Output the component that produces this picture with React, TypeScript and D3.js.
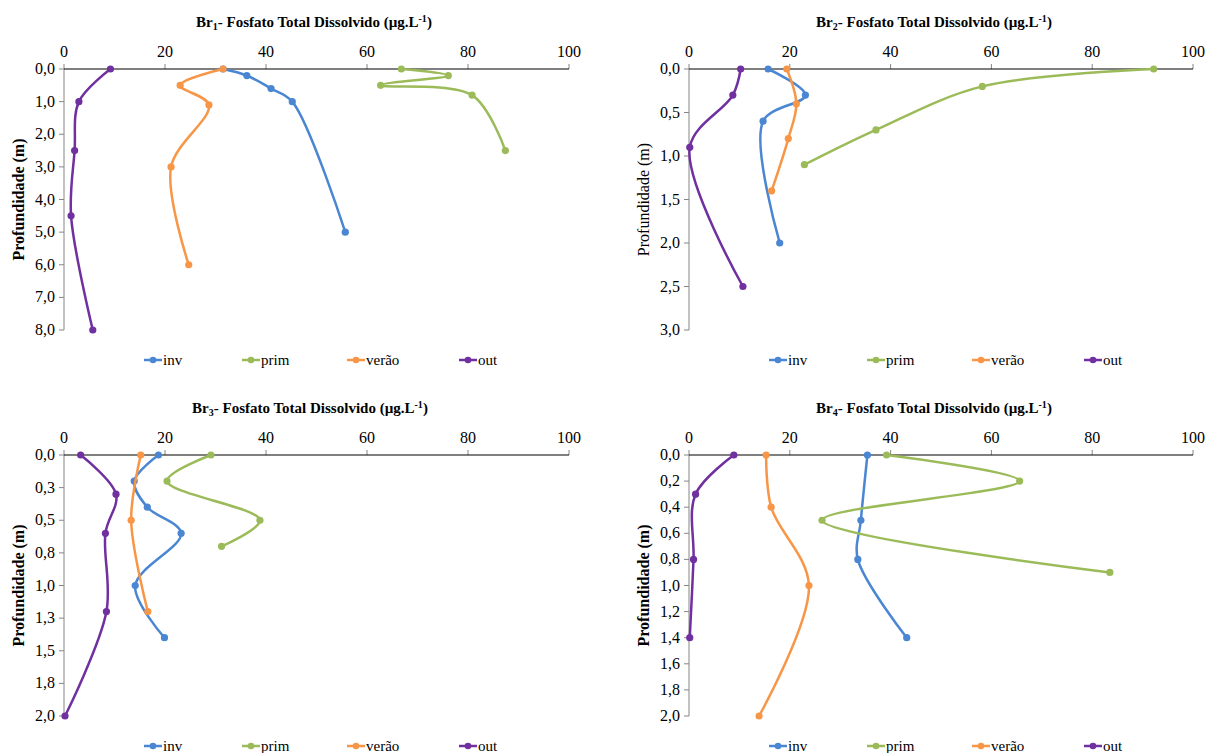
import React from "react";
import * as d3 from "d3";

// ---------- DATA ----------
const seriesNames = ["inv", "prim", "verão", "out"];
const seriesColors = ["#4a86d2", "#9bbb59", "#f79646", "#7030a0"];
const xTicks = [0, 20, 40, 60, 80, 100];

// Br1
const br1InvValue = [31.5, 36.2, 41.0, 45.2, 55.7];
const br1InvDepth = [0, 0.2, 0.6, 1.0, 5.0];
const br1PrimValue = [66.8, 76.1, 62.7, 80.8, 87.4];
const br1PrimDepth = [0, 0.2, 0.5, 0.8, 2.5];
const br1VeraoValue = [31.5, 23.0, 28.7, 21.2, 24.7];
const br1VeraoDepth = [0, 0.5, 1.1, 3.0, 6.0];
const br1OutValue = [9.2, 2.95, 2.1, 1.4, 5.7];
const br1OutDepth = [0, 1.0, 2.5, 4.5, 8.0];
const br1Ticks = [0, 1, 2, 3, 4, 5, 6, 7, 8];
const br1TickLabels = ["0,0", "1,0", "2,0", "3,0", "4,0", "5,0", "6,0", "7,0", "8,0"];

// Br2
const br2InvValue = [15.7, 23.1, 14.7, 18.0];
const br2InvDepth = [0, 0.3, 0.6, 2.0];
const br2PrimValue = [92.2, 58.2, 37.1, 22.9];
const br2PrimDepth = [0, 0.2, 0.7, 1.1];
const br2VeraoValue = [19.4, 21.3, 19.7, 16.4];
const br2VeraoDepth = [0, 0.4, 0.8, 1.4];
const br2OutValue = [10.25, 8.7, 0.15, 10.7];
const br2OutDepth = [0, 0.3, 0.9, 2.5];
const br2Ticks = [0, 0.5, 1, 1.5, 2, 2.5, 3];
const br2TickLabels = ["0,0", "0,5", "1,0", "1,5", "2,0", "2,5", "3,0"];

// Br3
const br3InvValue = [18.7, 13.9, 16.5, 23.2, 14.1, 19.9];
const br3InvDepth = [0, 0.2, 0.4, 0.6, 1.0, 1.4];
const br3PrimValue = [29.1, 20.4, 38.8, 31.2];
const br3PrimDepth = [0, 0.2, 0.5, 0.7];
const br3VeraoValue = [15.2, 13.3, 16.6];
const br3VeraoDepth = [0, 0.5, 1.2];
const br3OutValue = [3.3, 10.3, 8.2, 8.4, 0.2];
const br3OutDepth = [0, 0.3, 0.6, 1.2, 2.0];
const br3Ticks = [0, 0.25, 0.5, 0.75, 1, 1.25, 1.5, 1.75, 2];
const br3TickLabels = ["0,0", "0,3", "0,5", "0,8", "1,0", "1,3", "1,5", "1,8", "2,0"];

// Br4
const br4InvValue = [35.4, 34.1, 33.5, 43.2];
const br4InvDepth = [0, 0.5, 0.8, 1.4];
const br4PrimValue = [39.2, 65.6, 26.4, 83.5];
const br4PrimDepth = [0, 0.2, 0.5, 0.9];
const br4VeraoValue = [15.3, 16.3, 23.8, 13.9];
const br4VeraoDepth = [0, 0.4, 1.0, 2.0];
const br4OutValue = [8.9, 1.3, 0.9, 0.15];
const br4OutDepth = [0, 0.3, 0.8, 1.4];
const br4Ticks = [0, 0.2, 0.4, 0.6, 0.8, 1, 1.2, 1.4, 1.6, 1.8, 2];
const br4TickLabels = ["0,0", "0,2", "0,4", "0,6", "0,8", "1,0", "1,2", "1,4", "1,6", "1,8", "2,0"];

type Series = { values: number[]; depths: number[] };

const panels = [
  {
    sub: "1",
    series: [
      { values: br1InvValue, depths: br1InvDepth },
      { values: br1PrimValue, depths: br1PrimDepth },
      { values: br1VeraoValue, depths: br1VeraoDepth },
      { values: br1OutValue, depths: br1OutDepth },
    ] as Series[],
    ticks: br1Ticks, tickLabels: br1TickLabels, boldY: true,
    left: 64, top: 69, width: 505, titleX: 314,
  },
  {
    sub: "2",
    series: [
      { values: br2InvValue, depths: br2InvDepth },
      { values: br2PrimValue, depths: br2PrimDepth },
      { values: br2VeraoValue, depths: br2VeraoDepth },
      { values: br2OutValue, depths: br2OutDepth },
    ] as Series[],
    ticks: br2Ticks, tickLabels: br2TickLabels, boldY: false,
    left: 689, top: 69, width: 504, titleX: 934,
  },
  {
    sub: "3",
    series: [
      { values: br3InvValue, depths: br3InvDepth },
      { values: br3PrimValue, depths: br3PrimDepth },
      { values: br3VeraoValue, depths: br3VeraoDepth },
      { values: br3OutValue, depths: br3OutDepth },
    ] as Series[],
    ticks: br3Ticks, tickLabels: br3TickLabels, boldY: true,
    left: 64, top: 455, width: 505, titleX: 310,
  },
  {
    sub: "4",
    series: [
      { values: br4InvValue, depths: br4InvDepth },
      { values: br4PrimValue, depths: br4PrimDepth },
      { values: br4VeraoValue, depths: br4VeraoDepth },
      { values: br4OutValue, depths: br4OutDepth },
    ] as Series[],
    ticks: br4Ticks, tickLabels: br4TickLabels, boldY: true,
    left: 689, top: 455, width: 504, titleX: 934,
  },
];

const PLOT_H = 261;
const FONT = "Liberation Serif, Times New Roman, serif";
const legendOffsets = [80, 178, 283, 395];

function Panel({ p }: { p: (typeof panels)[number] }) {
  const x = d3.scaleLinear().domain([0, 100]).range([p.left, p.left + p.width]);
  const yMax = p.ticks[p.ticks.length - 1];
  const y = d3.scaleLinear().domain([0, yMax]).range([p.top, p.top + PLOT_H]);
  const line = d3
    .line<[number, number]>()
    .x((d) => x(d[0]))
    .y((d) => y(d[1]))
    .curve(d3.curveCatmullRom.alpha(0.5));
  const legendY = p.top + PLOT_H + 30;
  return (
    <g style={{ fontFamily: FONT }}>
      <text x={p.titleX} y={p.top - 42} textAnchor="middle" fontWeight="bold" fontSize={15}>
        Br<tspan fontSize={10} dy={3}>{p.sub}</tspan>
        <tspan dy={-3}>- Fosfato Total Dissolvido (µg.L</tspan>
        <tspan fontSize={10} dy={-5}>-1</tspan>
        <tspan dy={5}>)</tspan>
      </text>
      {/* y axis */}
      <line x1={p.left} x2={p.left} y1={p.top} y2={p.top + PLOT_H} stroke="#868686" strokeWidth={1} />
      {p.ticks.map((t, i) => (
        <g key={"yt" + i}>
          <line x1={p.left - 5} x2={p.left} y1={y(t)} y2={y(t)} stroke="#868686" />
          <text x={p.left - 9} y={y(t) + 5} textAnchor="end" fontSize={16}>
            {p.tickLabels[i]}
          </text>
        </g>
      ))}
      {/* x axis */}
      {xTicks.map((t) => (
        <g key={"xt" + t}>
          <line x1={x(t)} x2={x(t)} y1={p.top - 5} y2={p.top} stroke="#868686" />
          <text x={x(t)} y={p.top - 12} textAnchor="middle" fontSize={16}>
            {t}
          </text>
        </g>
      ))}
      <line x1={p.left} x2={p.left + p.width} y1={p.top} y2={p.top} stroke="#000" strokeWidth={1.2} />
      <text
        transform={`translate(${p.left - 45},${p.top + PLOT_H / 2}) rotate(-90)`}
        textAnchor="middle"
        fontWeight={p.boldY ? "bold" : "normal"}
        fontSize={16}
        dy={5}
      >
        Profundidade (m)
      </text>
      {/* series */}
      {p.series.map((s, si) => {
        const pts: [number, number][] = s.values.map((v, i) => [v, s.depths[i]]);
        return (
          <g key={"s" + si}>
            <path d={line(pts) || ""} fill="none" stroke={seriesColors[si]} strokeWidth={2.5} strokeLinejoin="round" strokeLinecap="round" />
            {pts.map((d, i) => (
              <circle key={i} cx={x(d[0])} cy={y(d[1])} r={3.6} fill={seriesColors[si]} />
            ))}
          </g>
        );
      })}
      {/* legend */}
      {seriesNames.map((n, i) => {
        const lx = p.left + legendOffsets[i];
        return (
          <g key={"l" + i}>
            <line x1={lx} x2={lx + 18} y1={legendY} y2={legendY} stroke={seriesColors[i]} strokeWidth={2.5} />
            <circle cx={lx + 9} cy={legendY} r={3.3} fill={seriesColors[i]} />
            <text x={lx + 19} y={legendY + 5} fontSize={15}>
              {n}
            </text>
          </g>
        );
      })}
    </g>
  );
}

export default function App() {
  return (
    <div style={{ position: "absolute", left: 0, top: 0 }}>
      <svg width={1209} height={753} viewBox="0 0 1209 753" style={{ display: "block", background: "#fff" }}>
        <rect width={1209} height={753} fill="#fff" />
        {panels.map((p) => (
          <Panel key={p.sub} p={p} />
        ))}
      </svg>
    </div>
  );
}
